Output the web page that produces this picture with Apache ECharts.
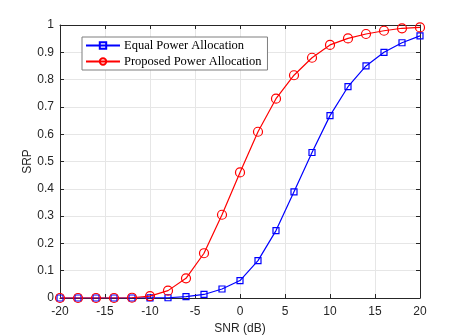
<!DOCTYPE html>
<html>
<head>
<meta charset="utf-8">
<title>SRP vs SNR</title>
<script src="https://cdn.jsdelivr.net/npm/echarts@6/dist/echarts.min.js"></script>
<style>
  html, body { margin: 0; padding: 0; background: #fff; }
  #main { width: 465px; height: 336px; }
</style>
</head>
<body>
<div id="main"></div>
<script type="text/javascript">
// SNR points (dB)
var snr = [-20, -18, -16, -14, -12, -10, -8, -6, -4, -2, 0, 2, 4, 6, 8, 10, 12, 14, 16, 18, 20];
// SRP values
var equalPower = [0, 0, 0, 0, 0, 0.0005, 0.001, 0.005, 0.013, 0.033, 0.064, 0.137, 0.247, 0.389, 0.533, 0.668, 0.774, 0.85, 0.9, 0.935, 0.96];
var proposedPower = [0, 0, 0, 0, 0.001, 0.007, 0.027, 0.072, 0.164, 0.305, 0.46, 0.609, 0.73, 0.816, 0.88, 0.927, 0.951, 0.967, 0.979, 0.988, 0.991];
var seriesNames = ['Equal Power Allocation', 'Proposed Power Allocation'];

function pairs(xs, ys) {
    var out = [];
    for (var i = 0; i < xs.length; i++) out.push([xs[i], ys[i]]);
    return out;
}

var axisColor = '#262626';
var gridColor = '#e6e6e6';

var myChart = echarts.init(document.getElementById('main'), null, { renderer: 'canvas' });

var option = {
    backgroundColor: '#fff',
    animation: false,
    grid: { left: 60, right: 45, top: 25, bottom: 38, containLabel: false, outerBoundsMode: 'none' },
    legend: {
        left: 82, top: 37,
        orient: 'vertical',
        backgroundColor: '#fff',
        borderColor: '#7f7f7f',
        borderWidth: 1,
        borderRadius: 0,
        padding: [2, 6, 2, 3],
        itemGap: 3,
        itemWidth: 34,
        itemHeight: 8,
        textStyle: { fontFamily: 'Liberation Serif', fontSize: 12.5, color: '#000', padding: [0, 0, 0, -1] },
        data: seriesNames
    },
    xAxis: [{
        type: 'value', min: -20, max: 20, interval: 5,
        name: 'SNR (dB)', nameLocation: 'middle', nameGap: 25, nameMoveOverlap: false,
        nameTextStyle: { fontFamily: 'Liberation Sans', fontSize: 12, color: axisColor },
        axisLine: { onZero: false, lineStyle: { color: axisColor, width: 1 } },
        axisTick: { inside: true, length: 4, lineStyle: { color: axisColor } },
        axisLabel: { fontFamily: 'Liberation Sans', fontSize: 12, color: axisColor, margin: 8 },
        splitLine: { show: true, lineStyle: { color: gridColor, width: 1 } }
    }, {
        type: 'value', min: -20, max: 20, interval: 5, position: 'top',
        axisLine: { onZero: false, lineStyle: { color: axisColor, width: 1 } },
        axisTick: { inside: true, length: 4, lineStyle: { color: axisColor } },
        axisLabel: { show: false },
        splitLine: { show: false }
    }],
    yAxis: [{
        type: 'value', min: 0, max: 1, interval: 0.1,
        name: 'SRP', nameLocation: 'middle', nameGap: 26, nameMoveOverlap: false,
        nameTextStyle: { fontFamily: 'Liberation Sans', fontSize: 12, color: axisColor },
        axisLine: { show: true, onZero: false, lineStyle: { color: axisColor, width: 1 } },
        axisTick: { show: true, inside: true, length: 4, lineStyle: { color: axisColor } },
        axisLabel: {
            fontFamily: 'Liberation Sans', fontSize: 12, color: axisColor, margin: 6,
            formatter: function (v) { return String(parseFloat(v.toFixed(1))); }
        },
        splitLine: { show: true, lineStyle: { color: gridColor, width: 1 } }
    }, {
        type: 'value', min: 0, max: 1, interval: 0.1, position: 'right',
        axisLine: { show: true, onZero: false, lineStyle: { color: axisColor, width: 1 } },
        axisTick: { show: true, inside: true, length: 4, lineStyle: { color: axisColor } },
        axisLabel: { show: false },
        splitLine: { show: false }
    }],
    series: [{
        name: seriesNames[0],
        type: 'line',
        data: pairs(snr, equalPower),
        symbol: 'rect',
        symbolSize: 6,
        showAllSymbol: true,
        lineStyle: { color: '#0000ff', width: 1.2 },
        itemStyle: { color: 'rgba(255,255,255,0)', borderColor: '#0000ff', borderWidth: 1.2 },
        z: 3
    }, {
        name: seriesNames[1],
        type: 'line',
        data: pairs(snr, proposedPower),
        symbol: 'circle',
        symbolSize: 9,
        showAllSymbol: true,
        lineStyle: { color: '#ff0000', width: 1.2 },
        itemStyle: { color: 'rgba(255,255,255,0)', borderColor: '#ff0000', borderWidth: 1.2 },
        z: 4
    }]
};
myChart.setOption(option);
</script>
</body>
</html>
